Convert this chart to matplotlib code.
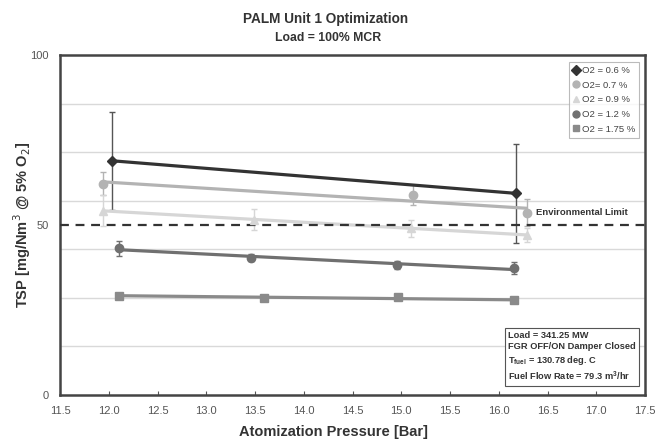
import numpy as np
import matplotlib
matplotlib.use("Agg")
import matplotlib.pyplot as plt

plt.rcParams['font.family'] = ['Liberation Sans', 'DejaVu Sans']

# data
labels = ["O2 = 0.6 %", "O2= 0.7 %", "O2 = 0.9 %", "O2 = 1.2 %", "O2 = 1.75 %"]
x06 = [12.03, 16.18]
y06 = [68.9, 59.3]
e06 = [14.4, 14.5]
x07 = [11.94, 15.12, 16.29]
y07 = [62.2, 58.8, 53.6]
e07 = [3.3, 3.0, 4.0]
x09 = [11.94, 13.49, 15.10, 16.29]
y09 = [54.2, 51.6, 49.0, 47.1]
e09 = [4.5, 3.0, 2.5, 2.0]
x12 = [12.11, 13.46, 14.96, 16.16]
y12 = [43.1, 40.4, 38.2, 37.3]
e12 = [2.1, 1.0, 1.2, 1.7]
x175 = [12.11, 13.59, 14.97, 16.16]
y175 = [29.2, 28.6, 28.7, 27.8]
e175 = [0.0, 0.0, 0.0, 0.0]
env_limit = 50
xticks = np.arange(11.5, 17.51, 0.5)

series = [
    (x06, y06, e06, 'D', '#333333', 5),
    (x07, y07, e07, 'o', '#b3b3b3', 6),
    (x09, y09, e09, '^', '#d6d6d6', 6),
    (x12, y12, e12, 'o', '#707070', 6),
    (x175, y175, e175, 's', '#8a8a8a', 6),
]

fig = plt.figure(figsize=(6.57, 4.42), dpi=100)
ax = fig.add_axes([60/657, 47/442, 585/657, 340/442])

ax.set_xlim(11.5, 17.5)
ax.set_ylim(0, 100)

for k in range(1, 7):
    ax.axhline(100*k/7, color='#d9d9d9', lw=1.0, zorder=0)

handles = []
for (xs, ys, es, m, c, ms), lab in zip(series, labels):
    xs = np.array(xs); ys = np.array(ys)
    p = np.polyfit(xs, ys, 1)
    xx = np.array([xs.min(), xs.max()])
    ax.plot(xx, np.polyval(p, xx), color=c, lw=2.3, zorder=3, solid_capstyle='butt')
    ecol = '#555555' if c == '#333333' else c
    if any(e > 0 for e in es):
        ax.errorbar(xs, ys, yerr=es, fmt='none', ecolor=ecol, elinewidth=1.0, capsize=2.5, zorder=2)
    ax.plot(xs, ys, ls='none', marker=m, color=c, ms=ms, zorder=4)
    h, = ax.plot([], [], ls='none', marker=m, color=c, ms=5)
    handles.append(h)

ax.axhline(env_limit, color='#333333', lw=1.6, ls=(0, (4, 3)), zorder=3)
ax.text(16.38, env_limit + 3.6, "Environmental Limit", fontsize=6.8, fontweight='bold',
        color='#333333', va='center', ha='left')

ax.set_xticks(xticks)
ax.set_xticklabels([f"{t:.1f}" for t in xticks])
ax.set_yticks([0, 50, 100])
ax.tick_params(axis='both', labelsize=8, colors='#555555', length=3, width=0.8)
ax.tick_params(axis='y', length=0, pad=8)
ax.tick_params(axis='x', direction='in', length=3, pad=8)
for s in ax.spines.values():
    s.set_color('#444444')
    s.set_linewidth(1.8)

ax.set_xlabel("Atomization Pressure [Bar]", fontsize=10.5, fontweight='bold', color='#333333')
ax.xaxis.set_label_coords(0.467, -0.087)
ax.set_ylabel("TSP [mg/Nm$^3$ @ 5% O$_2$]", fontsize=10.5, fontweight='bold', color='#333333')
ax.yaxis.set_label_coords(-0.046, 0.5)

fig.text(0.495, 0.958, "PALM Unit 1 Optimization", ha='center', va='center', fontsize=9.8,
         fontweight='bold', color='#333333')
fig.text(0.5, 0.913, "Load = 100% MCR", ha='center', va='center', fontsize=8.8,
         fontweight='bold', color='#333333')

leg = ax.legend(handles, labels, loc='upper right', bbox_to_anchor=(0.99, 0.98), fontsize=6.8,
                frameon=True, fancybox=False, shadow=False, handlelength=0.6, handletextpad=0.3,
                borderpad=0.45, labelspacing=0.6, edgecolor='#aaaaaa', borderaxespad=0)
leg.get_frame().set_linewidth(0.8)
for t in leg.get_texts():
    t.set_color('#444444')

info = ("Load = 341.25 MW\nFGR OFF/ON Damper Closed\nT$_{\\mathregular{fuel}}$ = 130.78 deg. C\n"
        "Fuel Flow Rate = 79.3 m$^{\\mathregular{3}}$/hr")
ax.text(0.766, 0.035, info, transform=ax.transAxes, fontsize=6.7, fontweight='bold',
        color='#333333', va='bottom', ha='left', linespacing=1.3,
        bbox=dict(boxstyle='square,pad=0.35', fc='white', ec='#555555', lw=0.8))

fig.savefig("out.png", dpi=100, facecolor='white')
